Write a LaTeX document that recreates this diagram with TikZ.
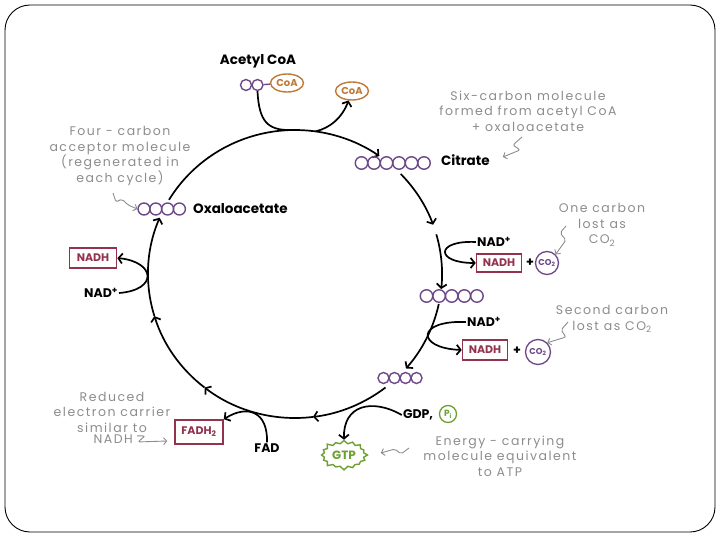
\documentclass[tikz,border=0pt]{standalone}
\usepackage{fontspec}
\setmainfont{Poppins}
\usetikzlibrary{arrows.meta,shapes.geometric,shapes.symbols,calc}
\definecolor{mol}{RGB}{108,72,136}
\definecolor{coa}{RGB}{190,122,56}
\definecolor{nadhc}{RGB}{146,50,76}
\definecolor{gtpc}{RGB}{110,160,50}
\definecolor{notec}{RGB}{140,140,140}
\newcommand\notefont{\fontsize{12.5}{15.5}\selectfont\addfontfeature{LetterSpace=12}}
\begin{document}
\begin{tikzpicture}[x=1pt,y=-1pt,
  cyc/.style={line width=1.7pt, -{Straight Barb[length=4pt,width=10pt]}},
  plain/.style={line width=1.7pt},
  carbon/.style={circle, draw=mol, line width=1.4pt, minimum size=11pt, inner sep=0pt},
  coabox/.style={ellipse, draw=coa, line width=1.4pt, text=coa, minimum width=33pt, minimum height=18pt, inner sep=0pt, font=\bfseries\fontsize{10}{12}\selectfont},
  lbl/.style={font=\bfseries\fontsize{13.5}{15}\selectfont, inner sep=1pt},
  sml/.style={font=\bfseries\fontsize{12.5}{14}\selectfont, inner sep=1pt},
  note/.style={text=notec, align=center, font=\notefont, inner sep=1pt},
  nadhbox/.style={draw=nadhc, line width=1.6pt, text=nadhc, font=\bfseries\fontsize{11}{12}\selectfont, minimum width=45pt, minimum height=18pt, inner sep=1pt},
  co2/.style={circle, draw=mol, line width=1.3pt, text=mol, minimum size=23pt, inner sep=0pt, font=\bfseries\fontsize{8.5}{9}\selectfont},
  sq/.style={draw=notec, line width=0.9pt, rounded corners=2pt, -{Straight Barb[length=3pt,width=7pt]}},
]
\useasboundingbox (0,0) rectangle (720,540);
\draw[line width=0.9pt, rounded corners=25pt] (5,5) rectangle (715,532);

% cycle
\coordinate (C) at (295,274);
\foreach \a in {211,268,278,305,316,340,344,366,372,401,412,443,488,523,563}
  \coordinate (k\a) at ($(C)+({147*cos(\a)},{144*sin(\a)})$);
\draw[cyc] (k211) arc[start angle=211,end angle=305,x radius=147,y radius=144];
\draw[cyc] (k316) arc[start angle=316,end angle=340,x radius=147,y radius=144];
\draw[cyc] (k344) arc[start angle=344,end angle=366,x radius=147,y radius=144];
\draw[cyc] (k372) arc[start angle=372,end angle=401,x radius=147,y radius=144];
\draw[cyc] (k412) arc[start angle=412,end angle=443,x radius=147,y radius=144];
\draw[cyc] (k443) arc[start angle=443,end angle=488,x radius=147,y radius=144];
\draw[cyc] (k488) arc[start angle=488,end angle=523,x radius=147,y radius=144];
\draw[cyc] (k523) arc[start angle=523,end angle=563,x radius=147,y radius=144];

% acetyl CoA
\node[lbl] (acetylT) at (258,61) {Acetyl CoA};
\node[carbon] (ac1) at (246,85) {};
\node[carbon] (ac2) at (257.5,85) {};
\node[coabox] (coa1) at (287,83) {CoA};
\draw[mol, line width=1.4pt] (ac2) -- (coa1);
\node[coabox] (coa2) at (352,91) {CoA};
\draw[plain] (ac2.south) .. controls (259,122) and (268,130) .. (k268);
\draw[cyc] (k278) .. controls (330,128) and (342,118) .. (coa2.250);

% citrate
\foreach \i in {0,...,5} \node[carbon, minimum size=12.5pt] (cit\i) at ({361.5+12.5*\i},163) {};
\node[lbl, anchor=west] (citT) at (440,160) {Citrate};

% five and four carbon
\foreach \i in {0,...,4} \node[carbon, minimum size=12.5pt] (five\i) at ({426.5+12.6*\i},296) {};
\foreach \i in {0,...,3} \node[carbon] (four\i) at ({383.5+11*\i},378) {};

% oxaloacetate
\foreach \i in {0,...,3} \node[carbon, minimum size=12pt] (oxa\i) at ({144+11.8*\i},209) {};
\node[lbl, anchor=west] (oxaT) at (192,209) {Oxaloacetate};

% first NADH
\node[sml] (nadp1) at (494,242) {NAD\textsuperscript{+}};
\node[nadhbox] (nadh1) at (499,263) {NADH};
\node[sml] (plus1) at (530,263) {+};
\node[co2] (co2a) at (547,263) {CO\textsubscript{2}};
\draw[cyc] (nadp1.west) .. controls (435,240) and (435,263) .. (nadh1.west);

% second NADH
\node[sml] (nadp2) at (484,322) {NAD\textsuperscript{+}};
\node[nadhbox, minimum height=20pt] (nadh2) at (485,350) {NADH};
\node[sml] (plus2) at (517,351) {+};
\node[co2, minimum size=25pt] (co2b) at (538,352) {CO\textsubscript{2}};
\draw[cyc] (nadp2.west) .. controls (416,320) and (416,348) .. (nadh2.west);

% GTP
\node[sml] (gdp) at (418,415) {GDP,};
\node[circle, draw=gtpc, line width=1.3pt, text=gtpc, minimum size=17pt, inner sep=0pt, font=\bfseries\fontsize{9}{10}\selectfont] (pi) at (448,414) {P\textsubscript{i}};
\node[starburst, draw=gtpc, fill=white, line width=1.4pt, text=gtpc, font=\bfseries\fontsize{12}{13}\selectfont, minimum width=48pt, minimum height=31pt, inner sep=1pt, starburst points=16, starburst point height=4pt] (gtp) at (344,455) {GTP};
\draw[cyc] (gdp.west) .. controls (372,398) and (343,405) .. (gtp.north);

% FAD
\node[sml] (fad) at (267,448) {FAD};
\node[nadhbox, minimum width=48pt, minimum height=24pt] (fadh2) at (199,432) {FADH\textsubscript{2}};
\draw[cyc] (fad.north) .. controls (268,412) and (248,404) .. (fadh2.north east);

% left NADH
\node[sml] (nadp3) at (101,293) {NAD\textsuperscript{+}};
\node[nadhbox, minimum width=47pt, minimum height=20pt] (nadh3) at (93,258) {NADH};
\draw[cyc] (nadp3.east) .. controls (158,290) and (156,262) .. (nadh3.east);

% notes
\node[note] (sixN) at (528,111) {Six-carbon molecule\\formed from acetyl CoA\\+ oxaloacetate};
\draw[sq] (522,137) -- (513,145) -- (520,150) -- ($(citT.east)+(12,-3)$);
\node[note] (fourN) at (120,156) {Four - carbon\\acceptor molecule\\(regenerated in\\each cycle)};
\draw[sq] (113,193) -- (116,202) -- (122,199) -- (128,205) -- (oxa0.west);
\node[note] (oneN) at (602,225) {One carbon\\lost as\\CO\textsubscript{2}};
\draw[sq] (566,226) -- (560,233) -- (566,240) -- (co2a.north east);
\node[note] (secN) at (612,319) {Second carbon\\lost as CO\textsubscript{2}};
\draw[sq] (568,322) -- (561,330) -- (566,337) -- (co2b.north east);
\node[note] (enN) at (500,456) {Energy - carrying\\molecule equivalent\\to ATP};
\draw[sq] (409,448) -- (401,454) -- (395,449) -- ($(gtp.east)+(12,-2)$);
\node[note] (redN) at (112,412) {Reduced\\electron carrier\\similar to};
\node[note, anchor=north east] (redN2) at ($(redN.south)+(22,0)$) {NADH};
\draw[sq] ($(redN2.east)+(3,-3)$) -- ($(redN2.east)+(11,-3)$) -- ($(redN2.east)+(4,3)$) -- ($(fadh2.west)+(-7,9)$);
\end{tikzpicture}
\end{document}
